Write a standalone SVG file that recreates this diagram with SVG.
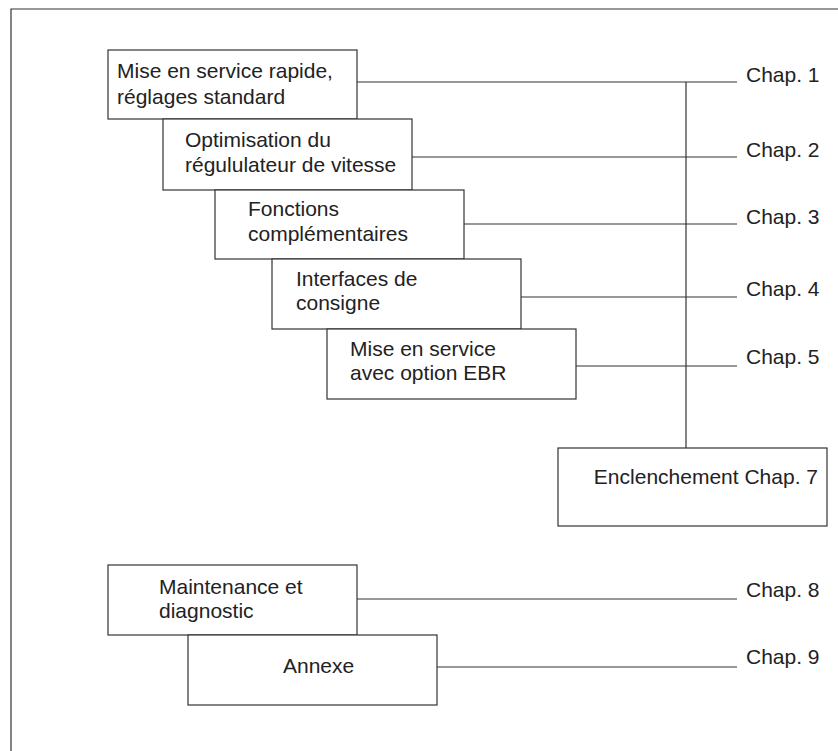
<svg xmlns="http://www.w3.org/2000/svg" width="838" height="751" viewBox="0 0 838 751">
<style>
.box{fill:#fff;stroke:#333;stroke-width:1.2}
.ln{stroke:#333;stroke-width:1.2;fill:none}
text{font-family:"Liberation Sans",Arial,sans-serif;font-size:21px;fill:#222}
</style>
<rect width="838" height="751" fill="#fff"/>
<g id="frame"><path class="ln" d="M11,751 V9 H838"/></g>
<g id="connectors">
<line class="ln" x1="357" y1="82" x2="737" y2="82"/>
<line class="ln" x1="412" y1="157" x2="737" y2="157"/>
<line class="ln" x1="464" y1="224" x2="737" y2="224"/>
<line class="ln" x1="521" y1="297" x2="737" y2="297"/>
<line class="ln" x1="576" y1="366" x2="737" y2="366"/>
<line class="ln" x1="686" y1="82" x2="686" y2="448"/>
<line class="ln" x1="357" y1="599" x2="737" y2="599"/>
<line class="ln" x1="437" y1="667" x2="737" y2="667"/>
</g>
<g id="n1"><rect class="box" x="108" y="50" width="249" height="69"/><text x="117" y="78">Mise en service rapide,</text><text x="117" y="104">réglages standard</text></g>
<g id="n2"><rect class="box" x="163" y="119" width="249" height="71"/><text x="185" y="147">Optimisation du</text><text x="185" y="172">régululateur de vitesse</text></g>
<g id="n3"><rect class="box" x="215" y="190" width="249" height="69"/><text x="248" y="216">Fonctions</text><text x="248" y="241">complémentaires</text></g>
<g id="n4"><rect class="box" x="272" y="259" width="249" height="70"/><text x="296" y="286">Interfaces de</text><text x="296" y="310">consigne</text></g>
<g id="n5"><rect class="box" x="327" y="329" width="249" height="70"/><text x="350" y="356">Mise en service</text><text x="350" y="380">avec option EBR</text></g>
<g id="n7"><rect class="box" x="558" y="448" width="269" height="78"/><text x="818" y="484" text-anchor="end">Enclenchement Chap. 7</text></g>
<g id="n8"><rect class="box" x="108" y="565" width="249" height="70"/><text x="159" y="594">Maintenance et</text><text x="159" y="618">diagnostic</text></g>
<g id="n9"><rect class="box" x="188" y="635" width="249" height="70"/><text x="283" y="673">Annexe</text></g>
<g id="labels">
<text x="746" y="82">Chap. 1</text>
<text x="746" y="157">Chap. 2</text>
<text x="746" y="224">Chap. 3</text>
<text x="746" y="296">Chap. 4</text>
<text x="746" y="364">Chap. 5</text>
<text x="746" y="597">Chap. 8</text>
<text x="746" y="664">Chap. 9</text>
</g>
</svg>
